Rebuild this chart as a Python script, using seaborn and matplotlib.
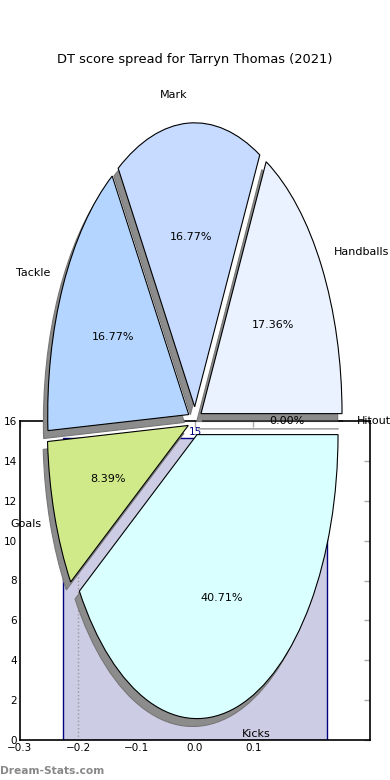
import matplotlib
matplotlib.use("Agg")
import matplotlib.pyplot as plt
import seaborn as sns

# data
pie_labels = ["Hitout", "Handballs", "Mark", "Tackle", "Goals", "Kicks"]
pie_values = [0.00, 17.36, 16.77, 16.77, 8.39, 40.71]
pie_colors = ["#ffffff", "#eaf2ff", "#c6dbff", "#b4d5ff", "#d0ea8a", "#d9ffff"]
bar_category = ["DT"]
bar_value = [15.15]
bar_label = "15"
x_ticks = [-0.3, -0.2, -0.1, 0.0, 0.1]
y_ticks = [0, 2, 4, 6, 8, 10, 12, 14, 16]
title = "DT score spread for Tarryn Thomas (2021)"

sns.set_style("white")
plt.rcParams["font.family"] = ["DejaVu Sans"]
plt.rcParams["text.color"] = "black"
plt.rcParams["axes.labelcolor"] = "black"
plt.rcParams["xtick.labelcolor"] = "black"
plt.rcParams["ytick.labelcolor"] = "black"

W, H = 390, 780
fig = plt.figure(figsize=(3.9, 7.8), dpi=100)

# background bar axes
ax = fig.add_axes([20 / W, 40 / H, 350 / W, 319 / H])
sns.barplot(x=bar_category, y=bar_value, width=0.452, color="navy",
            saturation=1, errorbar=None, ax=ax)
for p in ax.patches:
    p.set_facecolor((0, 0, 0.5, 0.2))
    p.set_edgecolor("navy")
    p.set_linewidth(1.0)
ax.axvline(-0.2, color="#999999", ls=":", lw=1)
ax.text(0.0, bar_value[0] + 0.05, bar_label, color="navy", ha="center",
        va="bottom", fontsize=7.5)
ax.set_xlim(-0.3, 0.3)
ax.set_ylim(0, 16)
ax.set_xticks(x_ticks)
ax.set_xticklabels([f"{t:.1f}".replace("-", "\u2212") for t in x_ticks])
ax.set_yticks(y_ticks)
ax.set_yticklabels([str(t) for t in y_ticks])
ax.set_xlabel("")
ax.set_ylabel("")
ax.tick_params(direction="in", top=True, right=True, length=4, width=1,
               color="#aaaaaa", labelcolor="black", labelsize=7.5, pad=2)
for s in ax.spines.values():
    s.set_visible(True)
    s.set_color("black")
    s.set_linewidth(1.2)

# pie axes on top
pax = fig.add_axes([0, 0, 1, 1])
pax.patch.set_visible(False)
rx, ry = 141.0, 284.0
cx, cy = 195.0, 780 - 421.0
wedges, texts, autotexts = pax.pie(
    pie_values, labels=pie_labels, colors=pie_colors, explode=[0.05] * 6,
    autopct="%1.2f%%", pctdistance=0.6, labeldistance=1.1, startangle=0,
    shadow={"ox": -0.022, "oy": -0.02, "facecolor": "#8c8c8c",
            "edgecolor": "#777777", "alpha": 1.0},
    wedgeprops={"edgecolor": "black", "linewidth": 0.8},
    textprops={"fontsize": 8, "color": "black"})
pax.set_aspect("auto")
pax.set_xlim(-cx / rx, (W - cx) / rx)
pax.set_ylim(-cy / ry, (H - cy) / ry)
pax.axis("off")

fig.text(0.5, 1 - 60 / H, title, ha="center", va="center", fontsize=9.4,
         color="black")
fig.text(0.0, 1 - 771 / H, "Dream-Stats.com", ha="left", va="center",
         fontsize=7.7, color="#888888", fontweight="bold")

fig.savefig("out.png", dpi=100)
